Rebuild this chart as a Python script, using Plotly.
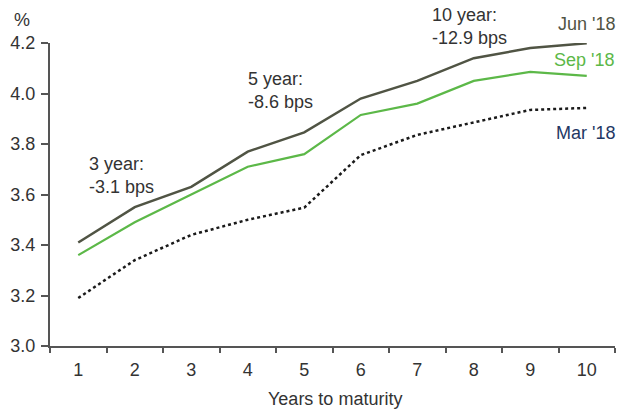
import plotly.graph_objects as go

years = ["1", "2", "3", "4", "5", "6", "7", "8", "9", "10"]
jun18 = [3.41, 3.55, 3.63, 3.77, 3.846, 3.98, 4.05, 4.14, 4.18, 4.199]
sep18 = [3.36, 3.49, 3.60, 3.71, 3.76, 3.915, 3.96, 4.05, 4.086, 4.07]
mar18 = [3.19, 3.34, 3.44, 3.50, 3.548, 3.756, 3.836, 3.887, 3.935, 3.943]
y_ticks = [3.0, 3.2, 3.4, 3.6, 3.8, 4.0, 4.2]

FONT = "Liberation Sans"
FS = 18
TXT = "#333333"
JUN_C = "#505444"
SEP_C = "#5cb848"
MAR_C = "#1f3864"
AX_C = "#555555"

W, H = 618, 412
L, R, T, B = 50, 3, 43, 66
pw, ph = W - L - R, H - T - B


def px(x):
    return (x - L) / pw


def py(y):
    return (H - B - y) / ph


fig = go.Figure()
fig.add_trace(go.Scatter(x=years, y=mar18, mode="lines", name="Mar '18",
                         line=dict(color="#1a1a1a", width=2.5, dash="3px,3px")))
fig.add_trace(go.Scatter(x=years, y=sep18, mode="lines", name="Sep '18",
                         line=dict(color=SEP_C, width=2.2)))
fig.add_trace(go.Scatter(x=years, y=jun18, mode="lines", name="Jun '18",
                         line=dict(color=JUN_C, width=2.5)))

annos = [
    dict(text="3 year:<br>-3.1 bps", x=px(87), y=py(175), xanchor="left", yanchor="middle", align="left", color=TXT),
    dict(text="5 year:<br>-8.6 bps", x=px(246), y=py(90), xanchor="left", yanchor="middle", align="left", color=TXT),
    dict(text="10 year:<br>-12.9 bps", x=px(430), y=py(26), xanchor="left", yanchor="middle", align="left", color=TXT),
    dict(text="Jun '18", x=px(617), y=py(24), xanchor="right", yanchor="middle", align="right", color=JUN_C),
    dict(text="Sep '18", x=px(617), y=py(60), xanchor="right", yanchor="middle", align="right", color=SEP_C),
    dict(text="Mar '18", x=px(617), y=py(133), xanchor="right", yanchor="middle", align="right", color=MAR_C),
    dict(text="%", x=px(22), y=py(20), xanchor="center", yanchor="middle", align="center", color=TXT),
    dict(text="Years to maturity", x=px(335), y=py(399), xanchor="center", yanchor="middle", align="center", color=TXT),
]
for a in annos:
    c = a.pop("color")
    fig.add_annotation(**a, xref="paper", yref="paper", showarrow=False,
                       font=dict(family=FONT, size=FS, color=c))

fig.update_layout(
    width=W, height=H,
    margin=dict(l=L, r=R, t=T, b=B, autoexpand=False),
    paper_bgcolor="white", plot_bgcolor="white",
    showlegend=False,
    font=dict(family=FONT, size=FS, color=TXT),
    xaxis=dict(type="category", range=[-0.5, 9.5], tickson="boundaries",
               ticks="outside", ticklen=5, automargin=False, ticklabelstandoff=6,
               tickcolor=AX_C, tickwidth=1.5, showline=True, linecolor=AX_C,
               linewidth=2, showgrid=False, zeroline=False,
               tickfont=dict(family=FONT, size=FS, color=TXT)),
    yaxis=dict(range=[3.0, 4.2], tickvals=y_ticks, ticktext=[f"{v:.1f}" for v in y_ticks],
               ticks="outside", ticklen=7, tickcolor=AX_C, tickwidth=1.5,
               automargin=False, ticklabelstandoff=2,
               showline=True, linecolor=AX_C, linewidth=2, showgrid=False,
               zeroline=False, tickfont=dict(family=FONT, size=FS, color=TXT)),
)

fig.write_html(
    "out.html",
    config={"displayModeBar": False},
    post_script="document.body.style.margin='0';document.documentElement.style.overflow='hidden';",
)
